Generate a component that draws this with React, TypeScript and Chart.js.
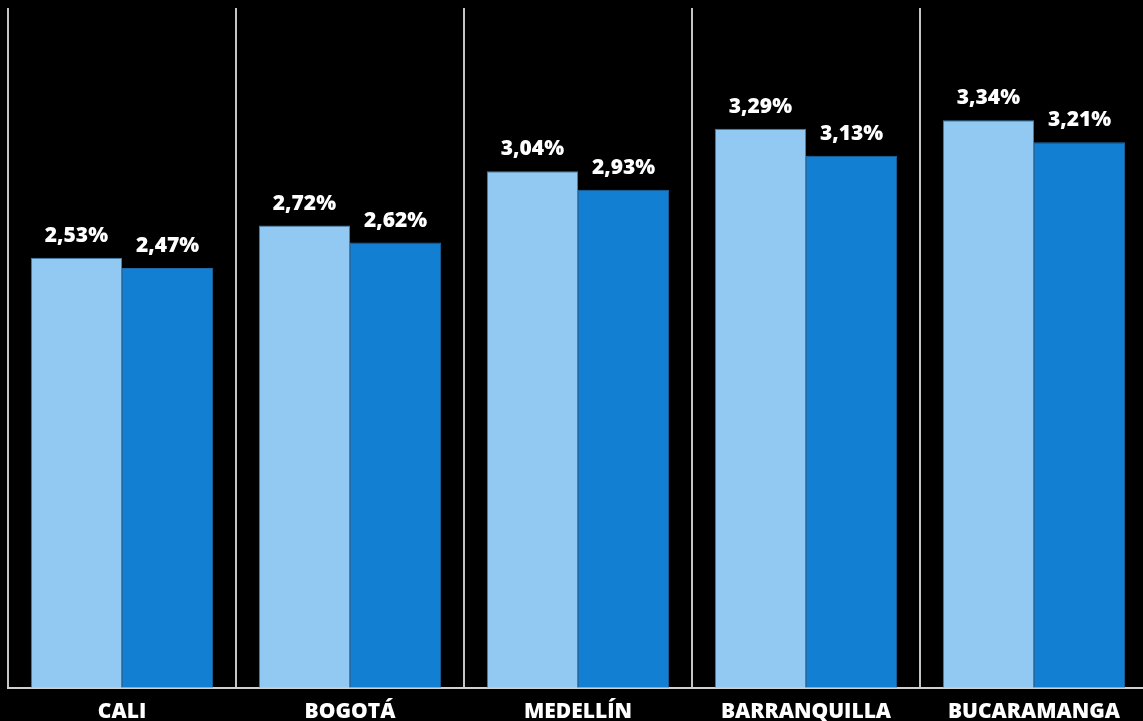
import React, { useEffect, useRef } from "react";
import { Chart, registerables } from "chart.js";

Chart.register(...registerables);

const categories = ["CALI", "BOGOTÁ", "MEDELLÍN", "BARRANQUILLA", "BUCARAMANGA"];
const seriesA = [2.53, 2.72, 3.04, 3.29, 3.34];
const seriesB = [2.47, 2.62, 2.93, 3.13, 3.21];
const seriesNames = ["Serie 1", "Serie 2"];

const FONT = "'Open Sans', 'DejaVu Sans', sans-serif";

const valueLabels = {
  id: "valueLabels",
  afterDatasetsDraw(chart: any) {
    const ctx = chart.ctx;
    ctx.save();
    ctx.fillStyle = "#ffffff";
    ctx.font = `800 21px ${FONT}`;
    ctx.textAlign = "center";
    ctx.textBaseline = "alphabetic";
    chart.data.datasets.forEach((ds: any, i: number) => {
      const meta = chart.getDatasetMeta(i);
      meta.data.forEach((el: any, j: number) => {
        const v = ds.data[j] as number;
        const txt = v.toFixed(2).replace(".", ",") + "%";
        ctx.fillText(txt, el.x, el.y - 16);
      });
    });
    ctx.restore();
  },
};

export default function App() {
  const ref = useRef<HTMLCanvasElement>(null);
  useEffect(() => {
    document.body.style.margin = "0";
    document.body.style.background = "#000";
    document.body.style.overflow = "hidden";
    const chart = new Chart(ref.current!, {
      type: "bar",
      data: {
        labels: categories,
        datasets: [
          {
            label: seriesNames[0],
            data: seriesA,
            backgroundColor: "#92C9F3",
            borderColor: "#3F7FB5",
            borderWidth: 1,
            categoryPercentage: 0.8,
            barPercentage: 1.0,
          },
          {
            label: seriesNames[1],
            data: seriesB,
            backgroundColor: "#137FD3",
            borderColor: "#1E6BA8",
            borderWidth: 1,
            categoryPercentage: 0.8,
            barPercentage: 1.0,
          },
        ],
      },
      options: {
        responsive: false,
        animation: false,
        devicePixelRatio: 1,
        layout: { padding: { left: 8, top: 8, right: 0, bottom: -16 } },
        plugins: {
          legend: { display: false },
          tooltip: { enabled: false },
        },
        scales: {
          x: {
            grid: {
              display: true,
              color: "#c4c4c4",
              lineWidth: 2,
              drawTicks: false,
              offset: true,
            },
            border: { display: true, color: "#d0d0d0", width: 2 },
            ticks: {
              color: "#ffffff",
              font: { family: FONT, size: 21, weight: "800" },
              padding: 12,
            },
          },
          y: {
            display: false,
            min: 0,
            max: 4,
          },
        },
      },
      plugins: [valueLabels],
    });
    return () => chart.destroy();
  }, []);
  return (
    <div style={{ position: "absolute", left: 0, top: 0, width: 1148, height: 721, background: "#000" }}>
      <canvas ref={ref} width={1148} height={721} style={{ display: "block" }} />
    </div>
  );
}
